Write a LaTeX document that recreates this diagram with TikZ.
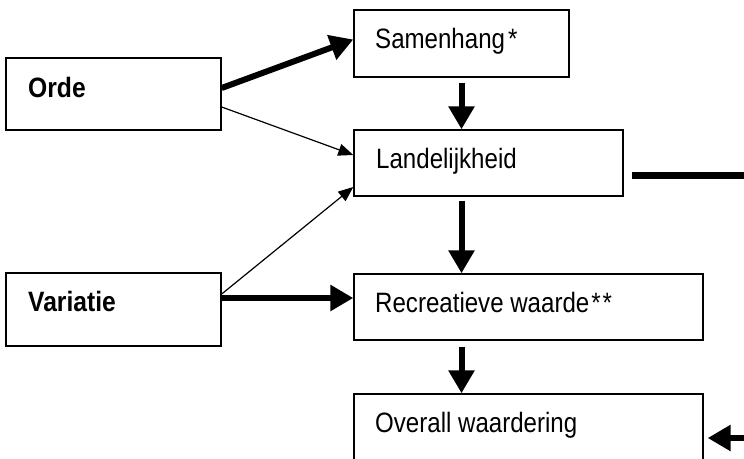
\documentclass[tikz,border=0pt]{standalone}
\usepackage{fontspec}
\setmainfont[FakeStretch=0.86,BoldFeatures={FakeStretch=0.88}]{Liberation Sans}
\usetikzlibrary{arrows.meta}
\begin{document}
\begin{tikzpicture}[x=1pt,y=-1pt,
  box/.style={draw,line width=1.4pt,inner sep=0pt},
  lbl/.style={anchor=base west,inner sep=0pt,font=\fontsize{28}{32}\selectfont},
  bigarrow/.style={line width=6pt,-{Triangle[length=23pt,width=25pt]}},
  thinarrow/.style={line width=1.2pt,-{Triangle[length=15pt,width=12pt]}},
  bigline/.style={line width=7pt}]
\useasboundingbox (0,0) rectangle (744,458);
\clip (0,0) rectangle (744,458);
\node[box,minimum width=215pt,minimum height=72pt] (orde) at (113.5,94) {};
\node[box,minimum width=215pt,minimum height=67pt] (samen) at (461.5,43.5) {};
\node[box,minimum width=269pt,minimum height=66pt] (land) at (488.5,163) {};
\node[box,minimum width=215pt,minimum height=73pt] (var) at (113.5,309.5) {};
\node[box,minimum width=349pt,minimum height=66pt] (recr) at (528.5,307) {};
\node[box,minimum width=349pt,minimum height=88pt] (over) at (528.5,438) {};
\node[lbl] (tOrde) at (28,97) {\bfseries Orde};
\node[lbl] (tSamen) at (375,48) {Samenhang\kern3pt*};
\node[lbl] (tLand) at (376,168) {Landelijkheid};
\node[lbl] (tVar) at (28,311) {\bfseries Variatie};
\node[lbl] (tRecr) at (375,312) {Recreatieve waarde\kern2pt*\kern2pt*};
\node[lbl] (tOver) at (375,432) {Overall waardering};
% connectors
\draw[bigarrow] ([yshift=6pt]orde.east) -- ([yshift=4pt]samen.west);
\draw[thinarrow] ([yshift=-13pt]orde.east) -- ([yshift=8pt]land.west);
\draw[thinarrow] ([yshift=15.5pt]var.east) -- ([yshift=-24pt]land.west);
\coordinate (v1) at ([yshift=11.5pt]var.east);
\draw[bigarrow] (v1) -- (v1 -| recr.west);
\draw[bigarrow,shorten <=5pt] (samen.south) -- (samen.south |- land.north);
\draw[bigarrow,shorten <=4pt] (samen.south |- land.south) -- (samen.south |- recr.north);
\draw[bigarrow,shorten <=6pt] (samen.south |- recr.south) -- (samen.south |- over.north);
\coordinate (rt) at (760,175);
\draw[bigline] ([xshift=8pt,yshift=-12pt]land.east) -- (rt);
\coordinate (rb) at (760,438);
\draw[bigarrow,shorten >=4pt] (rb) -- (over.east);
\end{tikzpicture}
\end{document}
